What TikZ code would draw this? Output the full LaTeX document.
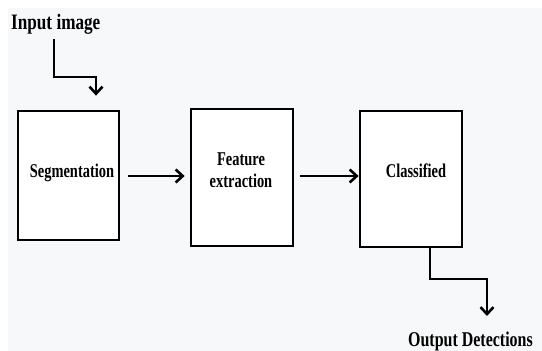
\documentclass[tikz,border=0pt]{standalone}
\usepackage{fontspec}
\setmainfont{Liberation Serif}
\usepackage{graphicx}
\usetikzlibrary{arrows.meta}
\definecolor{bgc}{HTML}{F7F8FA}
\tikzset{
  box/.style={draw=black, line width=2.8pt, fill=white, rectangle, inner sep=0pt},
  lbl/.style={inner sep=0pt, font=\fontsize{19.5}{22}\selectfont\bfseries, align=center},
  ext/.style={inner sep=0pt, font=\fontsize{22}{26}\selectfont\bfseries},
  arr/.style={line width=2.8pt, -{Straight Barb[length=7pt,width=13pt,line width=2.6pt]}}
}
\newcommand{\squash}[1]{\scalebox{0.74}[1]{#1}}
\begin{document}
\begin{tikzpicture}[x=1pt,y=-1pt]
\useasboundingbox (0,0) rectangle (542,351);
\clip (0,0) rectangle (542,351);
\fill[bgc] (0,0) rectangle (542,351);
\fill[white] (0,0) rectangle (542,8);
\fill[white] (0,0) rectangle (8,351);

\node[box, minimum width=101pt, minimum height=129pt] (seg) at (68.5,175.5) {};
\node[box, minimum width=102pt, minimum height=137pt] (feat) at (242,177.5) {};
\node[box, minimum width=102pt, minimum height=136pt] (cls) at (411,179) {};

\node[lbl, anchor=base] (segt) at (72,177) {\squash{Segmentation}};
\node[lbl, anchor=base] (featt) at (241,187) {\squash{Feature}\\\squash{extraction}};
\node[lbl, anchor=base] (clst) at (416,177) {\squash{Classified}};

\node[ext, anchor=base west] (inp) at (11,29) {\scalebox{0.78}[1]{Input image}};
\node[ext, anchor=base west, font=\fontsize{21}{25}\selectfont\bfseries] (outp) at (408,346) {\scalebox{0.76}[1]{Output Detections}};

\coordinate (ina) at (54,39);
\draw[arr, shorten >=14pt] (ina) |- (96,77) -- (seg.north -| 96,0);

\draw[arr, shorten <=8pt, shorten >=5pt] (seg.east |- 0,176) -- (feat.west |- 0,176);
\draw[arr, shorten <=6pt] (feat.east |- 0,176) -- (cls.west |- 0,176);

\coordinate (outa) at (487,316);
\draw[arr] (cls.south -| 430,0) |- (487,279) -- (outa);
\end{tikzpicture}
\end{document}
